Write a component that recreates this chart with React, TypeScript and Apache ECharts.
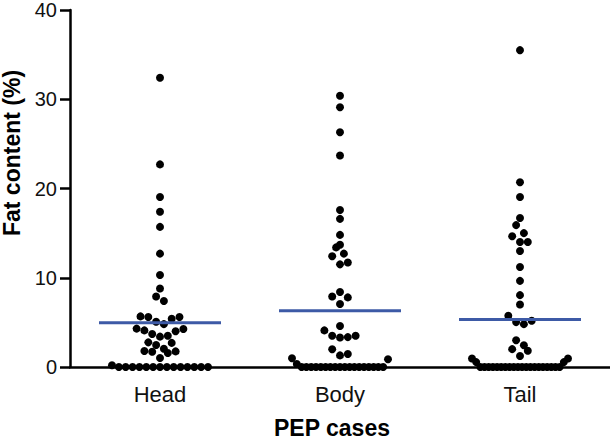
import React, { useEffect, useRef } from "react";
import * as echarts from "echarts";

const categories = ["Head", "Body", "Tail"];

const headValues = [
  0, 0, 0, 0, 0, 0, 0, 0, 0, 0, 0, 0, 0, 0, 0.2, 1.0, 1.57, 1.7, 1.75, 1.8, 2.05,
  2.46, 2.7, 2.76, 3.4, 3.5, 3.7, 4.0, 4.1, 4.25, 4.3, 4.8, 5.07, 5.4, 5.6, 5.6,
  5.67, 7.4, 7.9, 8.8, 10.3, 12.7, 15.7, 17.4, 19.05, 22.7, 32.4,
];
const bodyValues = [
  0, 0, 0, 0, 0, 0, 0, 0, 0, 0, 0, 0, 0, 0, 0, 0, 0, 0, 0.33, 0.86, 0.98, 1.3,
  1.45, 1.98, 3.3, 3.35, 3.5, 3.5, 4.1, 4.6, 7.05, 7.8, 7.9, 8.4, 11.5, 11.7,
  12.4, 12.7, 13.4, 13.7, 14.8, 16.6, 17.6, 23.7, 26.3, 29.1, 30.4,
];
const tailValues = [
  0, 0, 0, 0, 0, 0, 0, 0, 0, 0, 0, 0, 0, 0, 0, 0, 0, 0, 0, 0, 0.55, 0.55, 0.95,
  0.95, 1.23, 1.83, 2.0, 2.43, 3.0, 4.8, 5.03, 5.18, 5.74, 7.0, 8.05, 9.65, 11.2,
  13.0, 14.0, 14.0, 14.65, 15.0, 15.9, 16.7, 19.05, 20.7, 35.5,
];
const meanValues = [4.96, 6.3, 5.33];

const yMin = 0;
const yMax = 40;
const yInterval = 10;

// layout constants (pixels; hidden x value axis is in pixel units of the grid)
const GRID_LEFT = 70;
const GRID_WIDTH = 540;
const BIN = 1.0; // value units grouped in one row
const SPACING = 7.8;
const MAX_ROW_WIDTH = 96;
const MEAN_HALF = 61;

function swarm(values: number[], center: number): number[][] {
  const sorted = [...values].sort((a, b) => a - b);
  const rows: number[][] = [];
  let start = -Infinity;
  for (const v of sorted) {
    if (rows.length === 0 || v - start >= BIN) {
      rows.push([]);
      start = v;
    }
    rows[rows.length - 1].push(v);
  }
  const pts: number[][] = [];
  for (const row of rows) {
    const n = row.length;
    const step = n > 1 ? Math.min(SPACING, MAX_ROW_WIDTH / (n - 1)) : 0;
    const slots: number[] = [];
    for (let i = 0; i < n; i++) slots.push((i - (n - 1) / 2) * step);
    slots.sort((a, b) => Math.abs(a) - Math.abs(b) || b - a);
    row.forEach((v, k) => pts.push([center + slots[k], v]));
  }
  return pts;
}

export default function App() {
  const ref = useRef<HTMLDivElement>(null);
  useEffect(() => {
    document.body.style.margin = "0";
    if (!ref.current) return;
    const chart = echarts.init(ref.current, undefined, { renderer: "svg" });
    const groups = [headValues, bodyValues, tailValues];
    const catW = GRID_WIDTH / categories.length;
    const centers = categories.map((_, i) => catW * (i + 0.5));
    const font = "'Liberation Sans', Arial, Helvetica, sans-serif";

    const series: any[] = [];
    groups.forEach((vals, i) => {
      series.push({
        type: "scatter",
        xAxisIndex: 1,
        yAxisIndex: 0,
        data: swarm(vals, centers[i]),
        symbol: "circle",
        symbolSize: 8,
        itemStyle: { color: "#000", opacity: 1 },
        silent: true,
        z: 3,
      });
    });
    meanValues.forEach((m, i) => {
      series.push({
        type: "line",
        xAxisIndex: 1,
        yAxisIndex: 0,
        data: [
          [centers[i] - MEAN_HALF, m],
          [centers[i] + MEAN_HALF, m],
        ],
        symbol: "none",
        lineStyle: { color: "#3d5aa6", width: 3 },
        silent: true,
        z: 5,
      });
    });

    chart.setOption({
      animation: false,
      backgroundColor: "#fff",
      grid: { left: GRID_LEFT, right: 0, top: 9, bottom: 73 },
      xAxis: [
        {
          type: "category",
          data: categories,
          boundaryGap: true,
          axisLine: { show: true, lineStyle: { color: "#000", width: 2.5 } },
          axisTick: { show: false },
          axisLabel: {
            color: "#111",
            fontSize: 22,
            fontFamily: font,
            margin: 16,
          },
          splitLine: { show: false },
        },
        {
          type: "value",
          min: 0,
          max: GRID_WIDTH,
          show: false,
          splitLine: { show: false },
        },
      ],
      yAxis: {
        type: "value",
        min: yMin,
        max: yMax,
        interval: yInterval,
        axisLine: { show: true, lineStyle: { color: "#000", width: 2.5 } },
        axisTick: { show: true, length: 10, lineStyle: { color: "#000", width: 2.5 } },
        axisLabel: { color: "#111", fontSize: 20, fontFamily: font, margin: 13 },
        splitLine: { show: false },
      },
      graphic: [
        {
          type: "text",
          x: 12,
          y: 153,
          rotation: Math.PI / 2,
          style: {
            text: "Fat content (%)",
            font: `bold 23px ${font}`,
            fill: "#000",
            textAlign: "center",
            textVerticalAlign: "middle",
          },
        },
        {
          type: "text",
          x: 332,
          y: 428,
          style: {
            text: "PEP cases",
            font: `bold 23px ${font}`,
            fill: "#000",
            textAlign: "center",
            textVerticalAlign: "middle",
          },
        },
      ],
      series,
    });
    return () => chart.dispose();
  }, []);
  return <div ref={ref} style={{ width: 610, height: 440 }} />;
}
